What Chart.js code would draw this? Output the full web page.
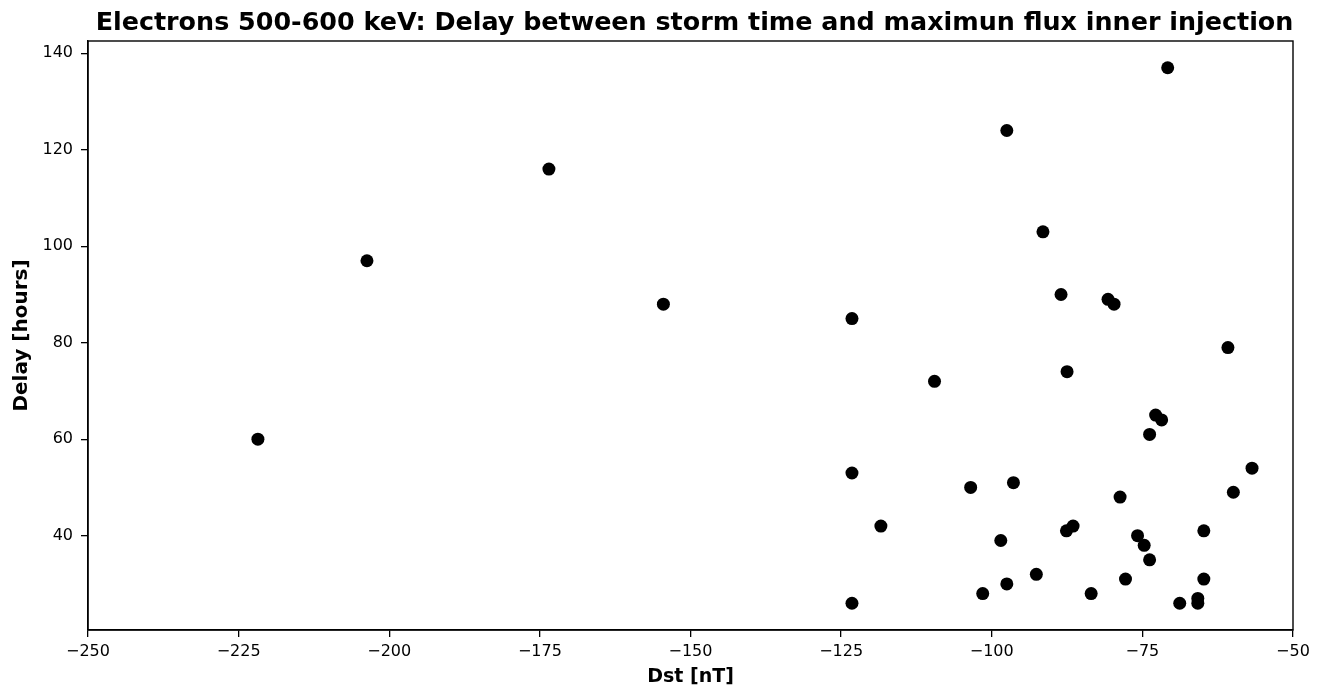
<!DOCTYPE html>
<html>
<head>
<meta charset="utf-8">
<script src="https://cdn.jsdelivr.net/npm/chart.js@4/dist/chart.umd.min.js"></script>
<style>
  html, body { margin: 0; padding: 0; background: #fff; }
  #wrap { width: 1331px; height: 692px; }
</style>
</head>
<body>
<div id="wrap"><canvas id="scatter"></canvas></div>
<script>
// Dst [nT] of each storm and delay [hours] to the maximum flux
const dstValues = [
  -221.8, -203.7, -173.5, -154.5,
  -123.2, -123.2, -123.2, -118.4, -109.5,
  -103.5, -101.5, -98.5, -97.5, -97.5, -96.4, -92.6, -91.5,
  -88.5, -87.6, -87.5, -86.5, -83.5,
  -80.7, -79.7, -78.7, -77.8, -75.8, -74.7, -73.8, -73.8, -72.8, -71.8, -70.8,
  -68.8, -65.8, -65.8, -64.8, -64.8, -60.8, -59.9, -56.8
];
const delayValues = [
  60, 97, 116, 88,
  85, 53, 26, 42, 72,
  50, 28, 39, 124, 30, 51, 32, 103,
  90, 41, 74, 42, 28,
  89, 88, 48, 31, 40, 38, 61, 35, 65, 64, 137,
  26, 27, 26, 41, 31, 79, 49, 54
];
const xTicks = [-250, -225, -200, -175, -150, -125, -100, -75, -50];
const yTicks = [40, 60, 80, 100, 120, 140];
const chartTitle = 'Electrons 500-600 keV: Delay between storm time and maximun flux inner injection';

const points = dstValues.map((d, i) => ({ x: d, y: delayValues[i] }));

// caja completa + titulo centrado sobre el area del grafico (como matplotlib)
const frameBox = {
  id: 'frameBox',
  afterDraw(chart) {
    const a = chart.chartArea;
    const ctx = chart.ctx;
    ctx.save();
    ctx.strokeStyle = '#000';
    ctx.lineWidth = 1.4;
    ctx.strokeRect(a.left, a.top, a.right - a.left, a.bottom - a.top);
    ctx.fillStyle = '#000';
    ctx.font = 'bold 25.4px "DejaVu Sans"';
    ctx.textAlign = 'center';
    ctx.textBaseline = 'alphabetic';
    ctx.fillText(chartTitle, (a.left + a.right) / 2 + 4, 30);
    ctx.restore();
  }
};

const ctx = document.getElementById('scatter').getContext('2d');
new Chart(ctx, {
  type: 'scatter',
  data: {
    datasets: [{
      data: points,
      backgroundColor: '#000',
      borderWidth: 0,
      pointRadius: 6.5,
      pointHoverRadius: 6.5
    }]
  },
  options: {
    responsive: true,
    maintainAspectRatio: false,
    animation: false,
    layout: { padding: { right: 38, top: 41, left: 0, bottom: 0 } },
    plugins: {
      legend: { display: false },
      tooltip: { enabled: false },
      title: { display: false }
    },
    scales: {
      x: {
        type: 'linear',
        min: -250,
        max: -50,
        afterBuildTicks: s => { s.ticks = xTicks.map(v => ({ value: v })); },
        afterFit: s => { s.height = 62; },
        grid: { drawOnChartArea: false, drawTicks: true, tickLength: 7, color: '#000', lineWidth: 1.3 },
        border: { color: '#000', width: 1.4 },
        ticks: {
          color: '#000',
          padding: 5,
          font: { family: 'DejaVu Sans', size: 16 },
          callback: v => String(v).replace('-', '\u2212')
        },
        title: {
          display: true,
          text: 'Dst [nT]',
          color: '#000',
          font: { family: 'DejaVu Sans', size: 19, weight: 'bold' },
          padding: { top: 2, bottom: 4 }
        }
      },
      y: {
        type: 'linear',
        min: 20.45,
        max: 142.55,
        afterBuildTicks: s => { s.ticks = yTicks.map(v => ({ value: v })); },
        afterFit: s => { s.width = 88; },
        grid: { drawOnChartArea: false, drawTicks: true, tickLength: 7, color: '#000', lineWidth: 1.3 },
        border: { color: '#000', width: 1.4 },
        ticks: {
          color: '#000',
          padding: 8,
          font: { family: 'DejaVu Sans', size: 16 }
        },
        title: {
          display: true,
          text: 'Delay [hours]',
          color: '#000',
          font: { family: 'DejaVu Sans', size: 20, weight: 'bold' },
          padding: { top: 10, bottom: 4 }
        }
      }
    }
  },
  plugins: [frameBox]
});
</script>
</body>
</html>
